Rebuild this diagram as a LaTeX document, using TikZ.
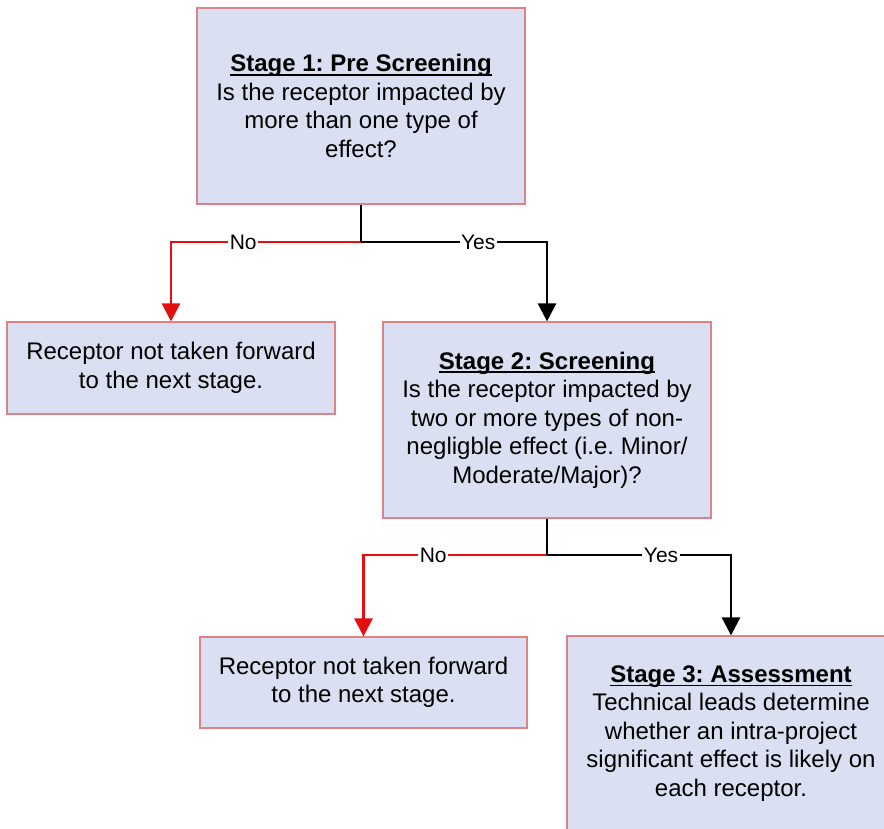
\documentclass[tikz,border=0pt]{standalone}
\usepackage{fontspec}
\setmainfont{Liberation Sans}
\usetikzlibrary{arrows.meta}
\definecolor{boxfill}{RGB}{218,224,241}
\definecolor{boxdraw}{RGB}{222,130,138}
\definecolor{nored}{RGB}{228,16,16}
\frenchspacing
\newcommand\stitle[1]{\setbox0\hbox{\textbf{#1}}\rlap{\rule[-4pt]{\wd0}{1.8pt}}\box0}
\begin{document}
\begin{tikzpicture}[x=1pt,y=-1pt,
  box/.style={draw=boxdraw, line width=1.2pt, fill=boxfill, inner sep=0pt, align=center,
    font=\fontsize{24}{28.5}\selectfont},
  conn/.style={line width=2.6pt, -{Triangle[length=18pt,width=18pt]}},
  lbl/.style={fill=white, text=black, inner sep=1.5pt, font=\fontsize{21}{24}\selectfont}]
\useasboundingbox (0,0) rectangle (884,829);
\clip (0,0) rectangle (884,829);
\fill[white] (0,0) rectangle (884,829);
\node[box, minimum width=328pt, minimum height=196pt] (b1) at (361,106)
  {\stitle{Stage 1: Pre Screening}\\Is the receptor impacted by\\more than one type of\\effect?};
\node[box, minimum width=328pt, minimum height=92pt] (b2) at (171,368)
  {Receptor not taken forward\\to the next stage.};
\node[box, minimum width=328pt, minimum height=196pt] (b3) at (547,420)
  {\stitle{Stage 2: Screening}\\Is the receptor impacted by\\two or more types of non-\\negligble effect (i.e. Minor/\\Moderate/Major)?};
\node[box, minimum width=327pt, minimum height=91pt] (b4) at (363.5,682.5)
  {Receptor not taken forward\\to the next stage.};
\node[box, minimum width=328pt, minimum height=195pt] (b5) at (731,733.5)
  {\stitle{Stage 3: Assessment}\\Technical leads determine\\whether an intra-project\\significant effect is likely on\\each receptor.};
\coordinate (j1) at (361,242);
\coordinate (j2) at (547,555);
\draw[conn, nored] (j1) -| node[lbl, pos=0.31]{No} (b2.north);
\draw[conn] (j1) -| node[lbl, pos=0.315]{Yes} (b3.north);
\draw[line width=2.6pt] (b1.south) -- (j1);
\draw[conn, nored] (j2) -| node[lbl, pos=0.31]{No} (b4.north);
\draw[conn] (j2) -| node[lbl, pos=0.31]{Yes} (b5.north);
\draw[line width=2.6pt] (b3.south) -- (j2);
\end{tikzpicture}
\end{document}
